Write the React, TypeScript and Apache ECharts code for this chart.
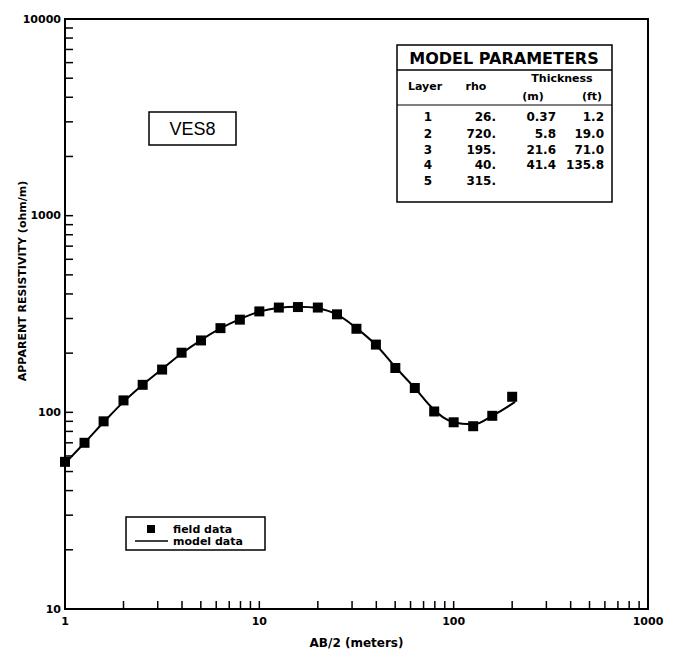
import React, { useEffect, useRef } from "react";
import * as echarts from "echarts";

// AB/2 spacing (m) and apparent resistivity (ohm-m)
const abHalf = [1, 1.26, 1.58, 2, 2.51, 3.16, 3.98, 5.01, 6.31, 7.94, 10, 12.6, 15.8, 20, 25.1, 31.6, 39.8, 50.1, 63.1, 79.4, 100, 126, 158, 200];
const fieldRho = [56, 70, 90, 115, 138, 165, 201, 232, 268, 296, 326, 341, 343, 341, 315, 266, 221, 168, 133, 101, 89, 85, 96, 120];
const modelAB = [1, 1.26, 1.58, 2, 2.51, 3.16, 3.98, 5.01, 6.31, 7.94, 10, 12.6, 15.8, 20, 25.1, 31.6, 39.8, 50.1, 63.1, 79.4, 100, 126, 158, 207];
const modelRho = [55, 70, 89, 113, 138, 166, 199, 233, 267, 298, 325, 340, 344, 338, 314, 268, 220, 170, 133, 103, 89, 87, 96, 113];

// Tick marks (log axes)
const xTickValues = [2, 3, 4, 5, 6, 7, 8, 9, 10, 20, 30, 40, 50, 60, 70, 80, 90, 100, 200, 300, 400, 500, 600, 700, 800, 900];
const yTickValues = [20, 30, 40, 50, 60, 70, 80, 90, 100, 200, 300, 400, 500, 600, 700, 800, 900, 1000, 2000, 3000, 4000, 5000, 6000, 7000, 8000, 9000];

// Model parameters table
const tableLayers = ["1", "2", "3", "4", "5"];
const tableRho = ["26.", "720.", "195.", "40.", "315."];
const tableThickM = ["0.37", "5.8", "21.6", "41.4", ""];
const tableThickFt = ["1.2", "19.0", "71.0", "135.8", ""];

const FONT = "DejaVu Sans";

export default function App() {
  const ref = useRef<HTMLDivElement>(null);

  useEffect(() => {
    if (!ref.current) return;
    const chart = echarts.init(ref.current, null, { renderer: "svg" });

    const txt = (text: string, x: number, y: number, size: number, align: string, weight = "bold", family = FONT) => ({
      type: "text",
      x,
      y,
      style: {
        text,
        fill: "#000",
        font: `${weight} ${size}px "${family}"`,
        textAlign: align,
        textVerticalAlign: "middle",
      },
      z: 20,
    });

    const rowY = [117, 134, 150, 165, 181];
    const tableGraphics: any[] = [
      { type: "rect", shape: { x: 397, y: 45, width: 215, height: 157 }, style: { fill: "#fff", stroke: "#000", lineWidth: 1.5 }, z: 15 },
      { type: "line", shape: { x1: 397, y1: 70, x2: 612, y2: 70 }, style: { stroke: "#000", lineWidth: 1.5 }, z: 16 },
      { type: "line", shape: { x1: 397, y1: 105, x2: 612, y2: 105 }, style: { stroke: "#000", lineWidth: 1 }, z: 16 },
      txt("MODEL PARAMETERS", 504, 58, 16, "center"),
      txt("Layer", 425, 86, 11, "center"),
      txt("rho", 476, 86, 11, "center"),
      txt("Thickness", 562, 78, 11, "center"),
      txt("(m)", 533, 96, 11, "center"),
      txt("(ft)", 592, 96, 11, "center"),
    ];
    tableLayers.forEach((l, i) => {
      tableGraphics.push(txt(l, 428, rowY[i], 12, "center"));
      tableGraphics.push(txt(tableRho[i], 496, rowY[i], 12, "right"));
      if (tableThickM[i]) tableGraphics.push(txt(tableThickM[i], 556, rowY[i], 12, "right"));
      if (tableThickFt[i]) tableGraphics.push(txt(tableThickFt[i], 604, rowY[i], 12, "right"));
    });

    const legendGraphics: any[] = [
      { type: "rect", shape: { x: 126, y: 517, width: 139, height: 33 }, style: { fill: "#fff", stroke: "#000", lineWidth: 1.5 }, z: 15 },
      { type: "rect", shape: { x: 147, y: 525, width: 8, height: 8 }, style: { fill: "#000" }, z: 16 },
      { type: "line", shape: { x1: 135, y1: 541, x2: 168, y2: 541 }, style: { stroke: "#000", lineWidth: 1.5 }, z: 16 },
      txt("field data", 173, 529, 11, "left"),
      txt("model data", 173, 541, 11, "left"),
    ];

    const vesGraphics: any[] = [
      { type: "rect", shape: { x: 149, y: 112, width: 87, height: 33 }, style: { fill: "#fff", stroke: "#000", lineWidth: 1.5 }, z: 15 },
      txt("VES8", 192.5, 129, 18, "center", "normal", "Liberation Sans"),
    ];

    const yTitle = {
      type: "text",
      x: 22,
      y: 281,
      rotation: Math.PI / 2,
      style: {
        text: "APPARENT RESISTIVITY (ohm/m)",
        fill: "#000",
        font: `bold 11px "${FONT}"`,
        textAlign: "center",
        textVerticalAlign: "middle",
      },
      z: 20,
    };

    const tickRender = (dir: "x" | "y") => (params: any, api: any) => {
      const p = api.coord([api.value(0), api.value(1)]);
      const shape =
        dir === "x"
          ? { x1: p[0], y1: p[1], x2: p[0], y2: p[1] - 8 }
          : { x1: p[0], y1: p[1], x2: p[0] + 8, y2: p[1] };
      return { type: "line", shape, style: { stroke: "#000", lineWidth: 1.5 } };
    };

    chart.setOption({
      animation: false,
      backgroundColor: "#fff",
      grid: {
        left: 65,
        right: 30,
        top: 19,
        bottom: 43,
        show: true,
        borderColor: "#000",
        borderWidth: 2,
        backgroundColor: "transparent",
      },
      xAxis: {
        type: "log",
        logBase: 10,
        min: 1,
        max: 1000,
        name: "AB/2 (meters)",
        nameLocation: "middle",
        nameGap: 28,
        nameTextStyle: { fontFamily: FONT, fontWeight: "bold", fontSize: 12, color: "#000" },
        axisLine: { show: true, lineStyle: { color: "#000", width: 2 } },
        axisTick: { show: false },
        splitLine: { show: false },
        minorTick: { show: false },
        axisLabel: {
          margin: 7,
          fontFamily: FONT,
          fontWeight: "bold",
          fontSize: 11,
          color: "#000",
          formatter: (v: number) => String(Math.round(v)),
        },
      },
      yAxis: {
        type: "log",
        logBase: 10,
        min: 10,
        max: 10000,
        axisLine: { show: true, lineStyle: { color: "#000", width: 2 } },
        axisTick: { show: false },
        splitLine: { show: false },
        axisLabel: {
          margin: 4,
          fontFamily: FONT,
          fontWeight: "bold",
          fontSize: 11,
          color: "#000",
          formatter: (v: number) => String(Math.round(v)),
        },
      },
      series: [
        {
          type: "custom",
          name: "xticks",
          coordinateSystem: "cartesian2d",
          silent: true,
          data: xTickValues.map((v) => [v, 10]),
          renderItem: tickRender("x"),
          z: 3,
        },
        {
          type: "custom",
          name: "yticks",
          coordinateSystem: "cartesian2d",
          silent: true,
          data: yTickValues.map((v) => [1, v]),
          renderItem: tickRender("y"),
          z: 3,
        },
        {
          type: "line",
          name: "model data",
          data: modelAB.map((x, i) => [x, modelRho[i]]),
          smooth: 0.4,
          showSymbol: false,
          lineStyle: { color: "#000", width: 2 },
          z: 4,
        },
        {
          type: "scatter",
          name: "field data",
          data: abHalf.map((x, i) => [x, fieldRho[i]]),
          symbol: "rect",
          symbolSize: 10,
          itemStyle: { color: "#000", opacity: 1 },
          z: 5,
        },
      ],
      graphic: [...tableGraphics, ...legendGraphics, ...vesGraphics, yTitle],
    });

    return () => chart.dispose();
  }, []);

  return <div ref={ref} style={{ position: "fixed", left: 0, top: 0, width: 678, height: 654 }} />;
}
